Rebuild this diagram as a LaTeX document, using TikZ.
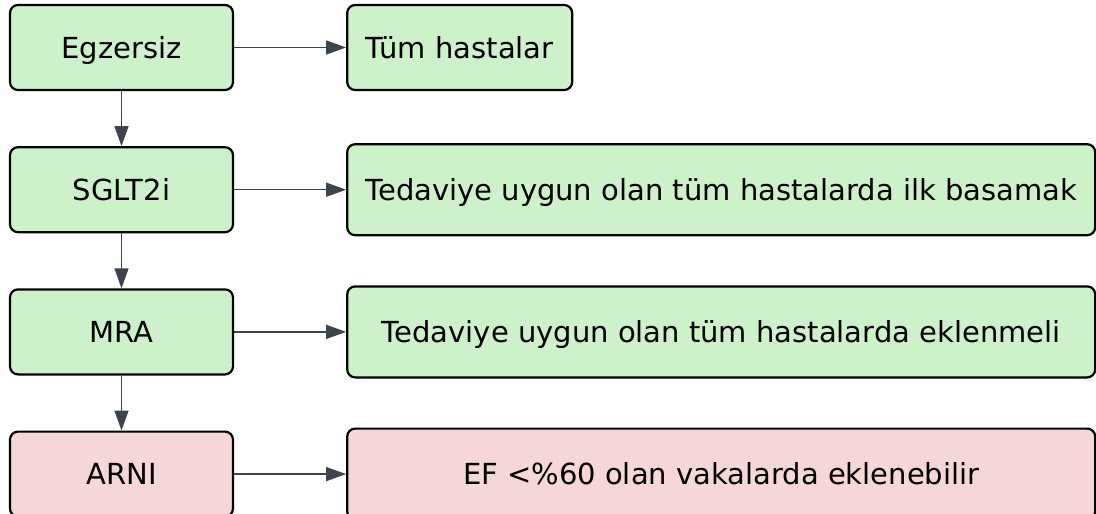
\documentclass[tikz,border=0pt]{standalone}
\usepackage{fontspec}
\setmainfont{DejaVu Sans}
\usetikzlibrary{arrows.meta}
\usetikzlibrary{positioning}
\definecolor{boxgreen}{RGB}{205,242,201}
\definecolor{boxred}{RGB}{245,215,215}
\definecolor{arrowgray}{RGB}{60,68,78}

\begin{document}
\begin{tikzpicture}[x=1pt,y=1pt,
    box/.style={draw=black, line width=2.2pt, rounded corners=8pt, inner sep=0pt,
        font=\fontsize{29}{33}\selectfont, text=black, text height=21pt, text depth=0pt},
    leftbox/.style={box, minimum width=223pt, minimum height=85pt},
    rightbox/.style={box, minimum width=748pt, minimum height=91pt},
    flow/.style={draw=arrowgray, line width=1.5pt, -{Triangle[length=20pt,width=14pt]}}]
    \useasboundingbox (0,0) rectangle (1096,-514);
    % left column
    \node[leftbox, fill=boxgreen] (egz) at (121.5,-47.5) {Egzersiz};
    \node[leftbox, fill=boxgreen, below=55pt of egz] (sglt) {SGLT2i};
    \node[leftbox, fill=boxgreen, below=55pt of sglt] (mra) {MRA};
    \node[leftbox, fill=boxred, below=55pt of mra] (arni) {ARNI};
    % right column
    \node[leftbox, fill=boxgreen, minimum width=225pt, right=112pt of egz] (tum) {Tüm hastalar};
    \node[rightbox, fill=boxgreen, right=112pt of sglt] (ilk) {Tedaviye uygun olan tüm hastalarda ilk basamak};
    \node[rightbox, fill=boxgreen, right=112pt of mra] (ekle) {Tedaviye uygun olan tüm hastalarda eklenmeli};
    \node[rightbox, fill=boxred, right=112pt of arni] (ef) {EF <\%60 olan vakalarda eklenebilir};
    % arrows
    \draw[flow] (egz) -- (tum);
    \draw[flow] (sglt) -- (ilk);
    \draw[flow] (mra) -- (ekle);
    \draw[flow] (arni) -- (ef);
    \draw[flow] (egz) -- (sglt);
    \draw[flow] (sglt) -- (mra);
    \draw[flow] (mra) -- (arni);
\end{tikzpicture}
\end{document}
